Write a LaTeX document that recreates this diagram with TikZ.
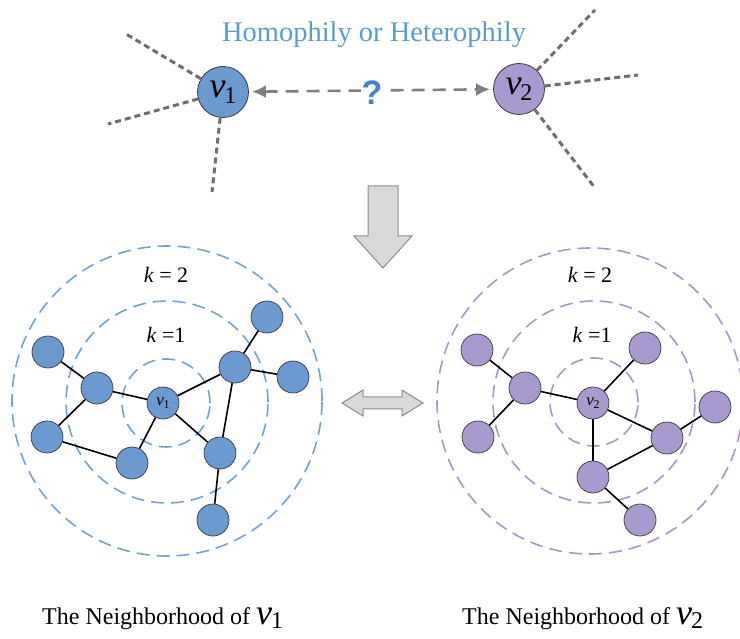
\documentclass[tikz,border=0pt]{standalone}
\usepackage{fontspec}
\setmainfont{Liberation Serif}
\newfontfamily\qfont{Liberation Sans}
\usetikzlibrary{arrows.meta}
\definecolor{bluefill}{HTML}{6B9AD0}
\definecolor{purplefill}{HTML}{A899CF}
\definecolor{bluering}{HTML}{6FA3D8}
\definecolor{purplering}{HTML}{A596CF}
\definecolor{nodeline}{HTML}{3A3A3A}
\definecolor{titleblue}{HTML}{5B9BD5}
\definecolor{qblue}{HTML}{3F87C8}
\definecolor{stubgray}{HTML}{6E6E6E}
\definecolor{arrowgray}{HTML}{7F7F7F}
\definecolor{arrowfill}{HTML}{D9D9D9}
\definecolor{arrowline}{HTML}{8C8C8C}
\newcommand\vsub[4]{{\fontsize{#1}{#1}\selectfont\textit{v}\kern-0.03em\raisebox{#4}{\fontsize{#2}{#2}\selectfont #3}}}
\begin{document}
\begin{tikzpicture}[x=1pt,y=-1pt,
  smallnode/.style={circle, draw=nodeline, line width=0.7pt, minimum size=32pt, inner sep=0pt},
  bnode/.style={smallnode, fill=bluefill},
  pnode/.style={smallnode, fill=purplefill},
  bignode/.style={circle, draw=nodeline, line width=0.8pt, minimum size=51pt, inner sep=0pt},
  ring/.style={dash pattern=on 13pt off 7pt, line width=1.6pt},
  edge/.style={line width=1.6pt, black},
  stub/.style={draw=stubgray, line width=3pt, dash pattern=on 6pt off 4pt},
  klabel/.style={font=\fontsize{22}{22}\selectfont, inner sep=0pt},
  botlabel/.style={anchor=base west, inner sep=0pt, font=\fontsize{24}{24}\selectfont}
]
\useasboundingbox (0,0) rectangle (740,639);

% ---------- top ----------
\node[text=titleblue, font=\fontsize{28.5}{28.5}\selectfont, inner sep=0pt] (title) at (374,35) {Homophily or Heterophily};

\node[bignode, fill=bluefill] (v1) at (223,92) {\vsub{36}{24}{1}{-6pt}};
\node[bignode, fill=purplefill] (v2) at (519,89) {\vsub{36}{24}{2}{-6pt}};

\coordinate (a1) at (126,34);
\coordinate (a2) at (108,124);
\coordinate (a3) at (212,192);
\coordinate (b1) at (595,10);
\coordinate (b2) at (638,75);
\coordinate (b3) at (595,188);
\draw[stub] (v1) -- (a1);
\draw[stub] (v1) -- (a2);
\draw[stub] (v1) -- (a3);
\draw[stub] (v2) -- (b1);
\draw[stub] (v2) -- (b2);
\draw[stub] (v2) -- (b3);

\draw[draw=arrowgray, line width=2.6pt, dash pattern=on 13pt off 8pt,
  {Latex[length=14pt,width=13pt]}-{Latex[length=14pt,width=13pt]}, shorten <=3pt, shorten >=3pt] (v1) -- (v2);
\node[text=qblue, font=\qfont\bfseries\fontsize{34}{34}\selectfont, fill=white, inner sep=1pt] (q) at (372,93) {?};

% big down arrow
\draw[fill=arrowfill, draw=arrowline, line width=1pt]
  (368,186) -- (398,186) -- (398,236) -- (412,236) -- (383,268) -- (354,236) -- (368,236) -- cycle;

% double arrow
\draw[fill=arrowfill, draw=arrowline, line width=1pt]
  (342,403) -- (363,390) -- (363,397) -- (402,397) -- (402,390) -- (423,403)
  -- (402,416) -- (402,409) -- (363,409) -- (363,416) -- cycle;

% ---------- left neighbourhood ----------
\draw[ring, draw=bluering] (167,401) circle[radius=155pt];
\draw[ring, draw=bluering] (167,402) circle[radius=101pt];
\draw[ring, draw=bluering] (166,403) circle[radius=44pt];

\node[klabel] (lk2) at (166,275) {\textit{k} = 2};
\node[klabel] (lk1) at (166,335) {\textit{k} =1};

\node[bnode] (L0) at (163,403) {\vsub{17}{12}{1}{-2.5pt}};
\node[bnode] (LA) at (97,388) {};
\node[bnode] (LB) at (48,352) {};
\node[bnode] (LC) at (47,437) {};
\node[bnode] (LD) at (132,463) {};
\node[bnode] (LE) at (220,453) {};
\node[bnode] (LF) at (213,520) {};
\node[bnode] (LG) at (235,367) {};
\node[bnode] (LH) at (267,317) {};
\node[bnode] (LI) at (293,377) {};
\draw[edge] (LB) -- (LA);
\draw[edge] (LA) -- (L0);
\draw[edge] (LA) -- (LC);
\draw[edge] (LC) -- (LD);
\draw[edge] (LD) -- (L0);
\draw[edge] (L0) -- (LE);
\draw[edge] (L0) -- (LG);
\draw[edge] (LG) -- (LE);
\draw[edge] (LE) -- (LF);
\draw[edge] (LG) -- (LH);
\draw[edge] (LG) -- (LI);

% ---------- right neighbourhood ----------
\draw[ring, draw=purplering] (590,401) circle[radius=153pt];
\draw[ring, draw=purplering] (594,402) circle[radius=101pt];
\draw[ring, draw=purplering] (594,402) circle[radius=44pt];

\node[klabel] (rk2) at (590,275) {\textit{k} = 2};
\node[klabel] (rk1) at (592,335) {\textit{k} =1};

\node[pnode] (R0) at (593,403) {\vsub{17}{12}{2}{-2.5pt}};
\node[pnode] (RP) at (477,350) {};
\node[pnode] (RQ) at (525,388) {};
\node[pnode] (RR) at (478,437) {};
\node[pnode] (RS) at (645,348) {};
\node[pnode] (RT) at (715,407) {};
\node[pnode] (RU) at (667,438) {};
\node[pnode] (RW) at (593,477) {};
\node[pnode] (RX) at (640,520) {};
\draw[edge] (RP) -- (RQ);
\draw[edge] (RQ) -- (R0);
\draw[edge] (RQ) -- (RR);
\draw[edge] (R0) -- (RS);
\draw[edge] (R0) -- (RU);
\draw[edge] (R0) -- (RW);
\draw[edge] (RU) -- (RT);
\draw[edge] (RU) -- (RW);
\draw[edge] (RW) -- (RX);

% ---------- captions ----------
\node[botlabel] (cap1) at (42,624) {The Neighborhood of \vsub{36}{24}{1}{-4pt}};
\node[botlabel] (cap2) at (462,624) {The Neighborhood of \vsub{36}{24}{2}{-4pt}};
\end{tikzpicture}
\end{document}
